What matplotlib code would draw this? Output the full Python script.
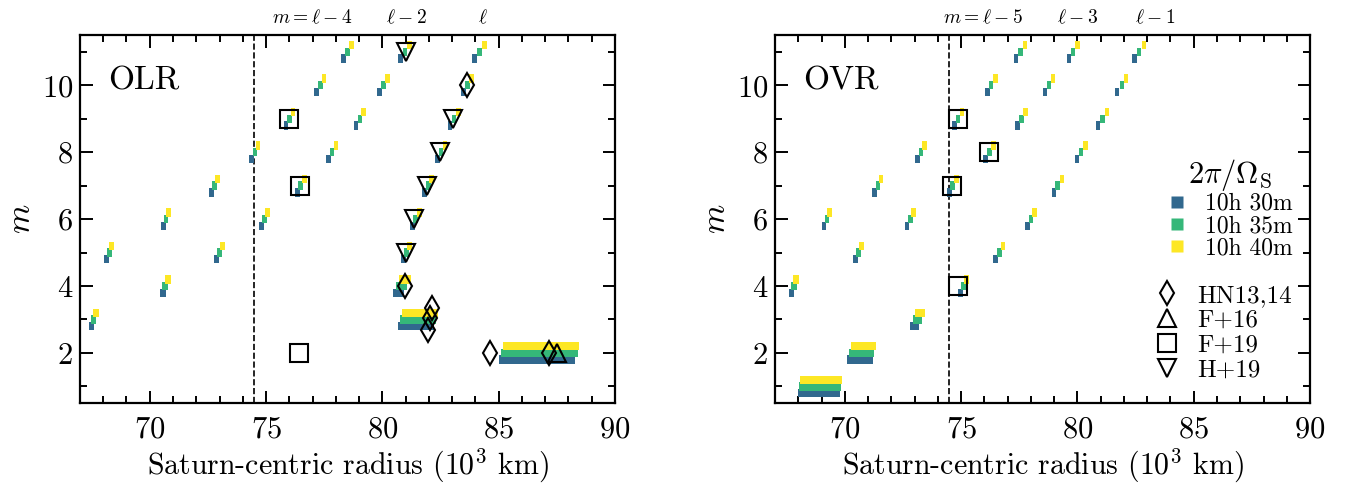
import numpy as np
import matplotlib
matplotlib.use('Agg')
import matplotlib.pyplot as plt
from matplotlib.lines import Line2D
from matplotlib.ticker import MultipleLocator
import matplotlib.transforms as mtransforms

plt.rcParams['font.family'] = 'serif'
plt.rcParams['font.serif'] = ['cmr10']
plt.rcParams['mathtext.fontset'] = 'cm'
plt.rcParams['axes.formatter.use_mathtext'] = True

periods = ['10h 30m', '10h 35m', '10h 40m']
period_colors = ['#31688e', '#35b779', '#fde725']

# OLR predictions: sequences m = l-4, l-2, l (centre radius per rotation period, 1e3 km)
olr_m = [5, 6, 7, 8, 9, 10, 11,
         3, 4, 5, 6, 7, 8, 9, 10, 11,
         2, 3, 4, 5, 6, 7, 8, 9, 10, 11]
olr_r30 = [68.15, 70.58, 72.66, 74.38, 75.86, 77.17, 78.32,
           67.50, 70.56, 72.87, 74.79, 76.34, 77.68, 78.87, 79.87, 80.78,
           86.66, 81.44, 80.70, 80.90, 81.29, 81.80, 82.36, 82.91, 83.48, 83.97]
olr_r35 = [68.26, 70.70, 72.79, 74.52, 76.01, 77.33, 78.49,
           67.59, 70.67, 73.00, 74.93, 76.49, 77.84, 79.04, 80.04, 80.97,
           86.75, 81.53, 80.83, 81.03, 81.43, 81.97, 82.52, 83.08, 83.65, 84.17]
olr_r40 = [68.37, 70.82, 72.92, 74.66, 76.16, 77.49, 78.66,
           67.68, 70.79, 73.13, 75.07, 76.64, 78.00, 79.20, 80.22, 81.17,
           86.82, 81.62, 80.96, 81.17, 81.59, 82.13, 82.69, 83.27, 83.84, 84.38]
olr_width = [0.21, 0.21, 0.21, 0.2, 0.2, 0.2, 0.2,
             0.24, 0.26, 0.24, 0.22, 0.22, 0.2, 0.2, 0.2, 0.2,
             3.28, 1.52, 0.5, 0.23, 0.22, 0.22, 0.2, 0.2, 0.2, 0.2]

# OVR predictions: sequences m = l-5, l-3, l-1
ovr_m = [6, 7, 8, 9, 10, 11,
         4, 5, 6, 7, 8, 9, 10, 11,
         1, 2, 3, 4, 5, 6, 7, 8, 9, 10, 11]
ovr_r30 = [69.10, 71.28, 73.13, 74.71, 76.13, 77.37,
           67.70, 70.45, 72.68, 74.50, 76.06, 77.41, 78.60, 79.64,
           68.88, 70.66, 73.00, 74.96, 76.49, 77.84, 78.99, 79.98, 80.88, 81.71, 82.45]
ovr_r35 = [69.23, 71.42, 73.27, 74.87, 76.29, 77.55,
           67.81, 70.58, 72.81, 74.64, 76.22, 77.59, 78.78, 79.82,
           68.93, 70.73, 73.11, 75.09, 76.64, 78.00, 79.15, 80.16, 81.08, 81.91, 82.66]
ovr_r40 = [69.35, 71.55, 73.42, 75.04, 76.47, 77.73,
           67.91, 70.70, 72.95, 74.80, 76.38, 77.77, 78.96, 80.00,
           68.99, 70.80, 73.23, 75.22, 76.80, 78.15, 79.33, 80.36, 81.28, 82.10, 82.86]
ovr_width = [0.2, 0.2, 0.2, 0.2, 0.2, 0.18,
             0.24, 0.22, 0.2, 0.2, 0.2, 0.2, 0.18, 0.18,
             1.81, 1.09, 0.4, 0.22, 0.2, 0.2, 0.2, 0.2, 0.18, 0.18, 0.18]

# observed waves
hn_olr_r = [84.64, 87.17, 81.98, 82.05, 82.15, 80.98, 83.63]
hn_olr_m = [2.0, 2.0, 2.68, 3.03, 3.33, 4.0, 10.0]
f16_olr_r = [87.52]
f16_olr_m = [2.0]
f19_olr_r = [76.00, 76.45, 76.43]
f19_olr_m = [9, 7, 2]
h19_olr_r = [81.00, 83.05, 82.49, 81.93, 81.37, 81.00]
h19_olr_m = [11, 9, 8, 7, 6, 5]
f19_ovr_r = [74.87, 76.20, 74.59, 74.86]
f19_ovr_m = [9, 8, 7, 4]

olr_top_x = [77.0, 81.05, 84.3]
olr_top_labels = [r'$m=\ell-4$', r'$\ell-2$', r'$\ell$']
ovr_top_x = [75.95, 80.0, 83.35]
ovr_top_labels = [r'$m=\ell-5$', r'$\ell-3$', r'$\ell-1$']

r_inner_edge = 74.49


def draw_predictions(ax, m, radii, width):
    offsets = [-0.2, 0.0, 0.2]
    for r, dm, color in zip(radii, offsets, period_colors):
        y = np.array(m) + dm
        left = np.array(r) - np.array(width) / 2
        ax.barh(y, width, left=left, height=0.25, color=color,
                edgecolor='none', zorder=2)


def style_axes(ax, name, top_x, top_labels):
    ax.set_xlim(67, 90)
    ax.set_ylim(0.5, 11.5)
    ax.xaxis.set_major_locator(MultipleLocator(5))
    ax.xaxis.set_minor_locator(MultipleLocator(1))
    ax.yaxis.set_major_locator(MultipleLocator(2))
    ax.yaxis.set_minor_locator(MultipleLocator(1))
    ax.tick_params(which='both', direction='in', top=True, right=True,
                   labelsize=22, width=1.4)
    ax.tick_params(axis='x', pad=9)
    ax.tick_params(axis='y', pad=5)
    ax.tick_params(which='major', length=9)
    ax.tick_params(which='minor', length=5)
    for sp in ax.spines.values():
        sp.set_linewidth(1.6)
    ax.axvline(r_inner_edge, color='k', ls='--', lw=1.2, zorder=1)
    ax.set_xlabel(r'Saturn-centric radius ($10^3$ km)', fontsize=21.5,
                  labelpad=3)
    ax.set_ylabel(r'$m$', fontsize=24, labelpad=4)
    ax.text(0.052, 0.875, name, transform=ax.transAxes, fontsize=24,
            ha='left', va='center')
    trans = mtransforms.blended_transform_factory(ax.transData, ax.transAxes)
    for x, lab in zip(top_x, top_labels):
        ax.text(x, 1.032, lab, transform=trans, fontsize=14,
                ha='center', va='baseline')


mk = dict(ls='none', mfc='none', mec='k', mew=1.5, ms=12.5, zorder=4)

fig = plt.figure(figsize=(13.46, 4.91), dpi=100)
ax1 = fig.add_axes([0.0594, 0.179, 0.3975, 0.7495])
ax2 = fig.add_axes([0.5758, 0.179, 0.3975, 0.7495])

# OLR panel
draw_predictions(ax1, olr_m, [olr_r30, olr_r35, olr_r40], olr_width)
ax1.plot(hn_olr_r, hn_olr_m, marker='d', **mk)
ax1.plot(f16_olr_r, f16_olr_m, marker='^', **mk)
ax1.plot(f19_olr_r, f19_olr_m, marker='s', **mk)
ax1.plot(h19_olr_r, h19_olr_m, marker='v', **mk)
style_axes(ax1, 'OLR', olr_top_x, olr_top_labels)

# OVR panel
draw_predictions(ax2, ovr_m, [ovr_r30, ovr_r35, ovr_r40], ovr_width)
ax2.plot(f19_ovr_r, f19_ovr_m, marker='s', **mk)
style_axes(ax2, 'OVR', ovr_top_x, ovr_top_labels)

# legends
period_handles = [Line2D([], [], ls='none', marker='s', ms=8, color=c, mec='none')
                  for c in period_colors]
leg1 = ax2.legend(period_handles, periods, title=r'$2\pi/\Omega_{\rm S}$',
                  loc='upper right', bbox_to_anchor=(0.985, 0.695), frameon=False,
                  fontsize=17, title_fontsize=22, handlelength=0.8,
                  handletextpad=0.8, labelspacing=0.0, borderaxespad=0)
ax2.add_artist(leg1)
obs_handles = [Line2D([], [], marker=s, ls='none', mfc='none', mec='k',
                      mew=1.5, ms=12.5) for s in ['d', '^', 's', 'v']]
ax2.legend(obs_handles, ['HN13,14', 'F+16', 'F+19', 'H+19'],
           loc='upper right', bbox_to_anchor=(0.985, 0.35), frameon=False,
           fontsize=18, handlelength=0.8, handletextpad=0.8,
           labelspacing=0.1, borderaxespad=0)

fig.savefig('out.png', dpi=100)
